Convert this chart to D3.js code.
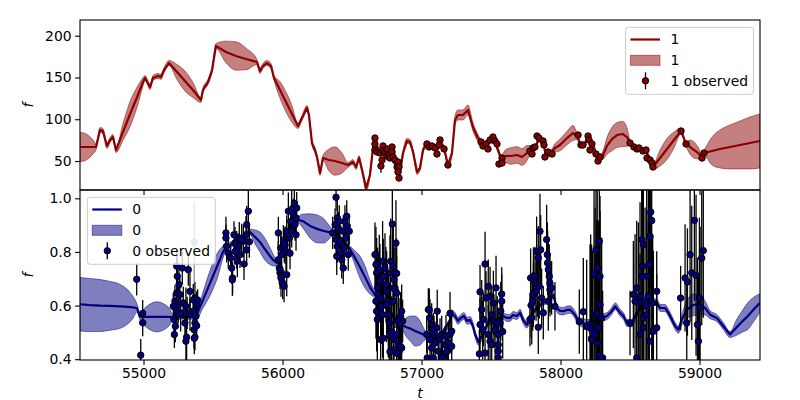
<!DOCTYPE html>
<html><head><meta charset="utf-8">
<script src="https://cdn.jsdelivr.net/npm/d3@7"></script>
<style>body{margin:0;background:#fff;} text{font-family:"DejaVu Sans",sans-serif;font-size:13.9px;fill:#000;}</style>
</head><body><svg id="c" width="800" height="400"></svg>
<script>
// ---------------- data ----------------
const tDomain = [54543, 59435];
const xTicks = [55000, 56000, 57000, 58000, 59000];
const yTicks1 = [50, 100, 150, 200];
const yTicks0 = [0.4, 0.6, 0.8, 1.0];
const y1Domain = [15.3, 218.8];
const y0Domain = [0.397, 1.031];

// GP model for series "1": [t, mean, sigma]
const gp1 = [
[54543,66.8,17.4],[54572,66.8,16.8],[54608,66.8,13.2],[54637,66.8,8.4],[54658,66.8,3.6],
[54687,87.1,3],[54708,85.9,3],[54737,68.0,3],[54759,75.2,3],[54780,78.7,3],[54802,63.2,3],
[54852,84.7,10],[54903,106.3,15],[54954,126.6,12],[54996,144.6,5],[55011,149.4,3],
[55047,138.6,3],[55068,149.4,3],[55104,151.8,3],[55126,150.6,3],[55148,158.9,3],[55183,167.3,3],
[55241,156.5,9],[55298,145.8,12],[55356,135.0,9],[55413,123.0,3],[55428,135.0,3],[55464,144.6,3],
[55493,158.9,3],[55521,187.7,3],[55593,180.5,13],[55665,175.7,17],[55737,172.1,13],[55816,168.5,3],
[55838,157.7,3],[55859,163.7,3],[55888,167.3,3],[55917,163.7,3],[55939,149.4,3],
[55982,135.0,10],[56025,120.6,12],[56068,106.3,10],[56111,91.9,3],[56140,101.5,3],[56176,113.5,3],
[56190,105.1,3],[56212,71.6,3],[56233,63.2,3],[56248,54.8,3],[56270,35.7,3],[56291,53.6,3],
[56334,51.2,13],[56377,50.0,17],[56428,47.6,12],[56471,45.2,3],[56507,48.8,3],[56529,42.8,3],
[56550,53.6,3],[56572,39.2,3],[56601,17.7,3],[56629,33.3,3],[56651,65.6,3],[56665,75.2,3],
[56687,64.4,3],[56716,62.0,3],[56744,60.8,3],[56773,60.8,3],[56802,54.8,3],[56824,47.6,3],
[56845,36.8,3],[56867,59.6,3],[56896,74.0,3],[56917,72.8,3],[56939,60.8,3],[56968,36.8,3],
[56989,41.6,3],[57011,63.2,3],[57040,70.4,3],[57061,68.0,3],[57090,65.6,3],[57111,63.2,3],
[57133,71.6,3],[57162,65.6,3],[57190,45.2,3],[57219,59.6,4],[57241,99.1,5],[57262,105.1,6],
[57298,105.1,6],[57334,111.1,6],[57370,90.7,5],[57406,77.5,4],[57435,71.6,3],[57457,70.4,3],
[57493,74.0,3],[57521,75.2,3],[57550,63.2,3],[57572,53.6,3],[57608,56.0,8],[57644,56.0,10],
[57687,57.2,10],[57723,54.8,10],[57759,59.6,9],[57788,64.4,4],[57816,65.6,3],[57845,76.3,3],
[57874,72.8,3],[57895,57.2,3],[57931,59.6,3],[57960,65.6,5],[57996,69.2,7],[58047,77.5,8],
[58090,83.5,9],[58118,79.9,4],[58147,69.2,3],[58169,69.2,3],[58198,78.7,3],[58219,74.0,3],
[58241,65.6,3],[58270,53.6,3],[58291,54.8,3],[58306,57.2,5],[58334,68.0,10],[58370,76.3,14],
[58406,81.1,15],[58449,82.3,15],[58478,78.7,11],[58500,71.6,3],[58528,65.6,3],[58557,64.4,3],
[58586,63.2,3],[58615,62.0,3],[58644,50.0,3],[58665,42.8,3],[58716,53.6,9.6],[58766,64.4,12.6],
[58816,75.2,9.6],[58867,85.9,3.6],[58903,70.4,3],[58931,66.8,8.4],[58960,63.2,9.6],[58989,59.6,7.2],
[59018,54.8,3.6],[59032,59.6,3],[59090,62.0,16.8],[59147,64.4,22.7],[59219,66.8,26.3],
[59291,69.2,28.7],[59363,71.6,31.1],[59435,74.0,32.3]
];

// observed points for series "1": [t, f, err]
const obs1 = [
[56665,77.5,2],[56665,70.4,2],[56665,63.2,2],[56680,60.8,2],[56701,59.6,2],[56723,68.0,2],[56723,62.0,2],
[56716,51.2,3],[56708,44.0,8],[56737,59.6,2],[56752,56.0,2],[56752,64.4,2],[56766,57.2,2],[56773,53.6,2],
[56788,66.8,2],[56788,60.8,2],[56795,54.8,2],[56809,51.2,2],[56824,47.6,2],[56831,48.8,2],[56824,42.8,2],
[56838,42.8,2],[56831,36.8,2],[56838,29.6,3],
[57039,70.4,2],[57054,66.8,2],[57075,68.0,2],[57097,65.6,2],[57111,58.4,2],[57133,75.2,2],[57126,69.2,2],
[57162,64.4,2],[57190,45.2,3],
[57428,72.8,2],[57442,68.0,2],[57464,70.4,2],[57478,64.4,2],[57493,75.2,2],[57514,78.7,2],[57528,74.0,2],
[57543,70.4,2],[57557,46.4,4],[57579,53.6,2],[57579,47.6,2],
[57780,62.0,2],[57795,58.4,2],[57802,65.6,2],[57816,66.8,2],[57831,79.9,2],[57845,77.5,2],[57874,74.0,2],
[57881,69.2,2],[57888,54.8,2],[57910,60.8,2],[57939,58.4,2],
[58126,81.1,2],[58147,69.2,2],[58162,69.2,2],[58198,79.9,2],[58205,75.2,2],[58212,63.2,2],[58226,70.4,2],
[58255,58.4,2],[58270,50.0,3],[58284,54.8,2],
[58500,71.6,2],[58528,66.8,2],[58550,64.4,2],[58564,65.6,2],[58593,62.0,2],[58615,63.2,2],[58622,53.6,2],
[58644,51.2,2],[58658,47.6,2],[58665,42.8,3],
[58867,85.9,2],[58903,70.4,2],[59018,53.6,3],[59032,59.6,2]
];

// GP model for series "0": [t, mean, sigma]
const gp0 = [
[54543,0.605,0.0995],[54615,0.602,0.099],[54687,0.600,0.097],[54759,0.599,0.091],[54831,0.597,0.082],
[54888,0.595,0.063],[54924,0.593,0.041],[54953,0.591,0.015],[54974,0.559,0.011],[55011,0.558,0.034],
[55047,0.558,0.048],[55097,0.558,0.056],[55147,0.558,0.048],[55183,0.558,0.034],[55212,0.556,0.011],
[55298,0.558,0.008],[55377,0.559,0.011],[55428,0.621,0.030],[55485,0.692,0.048],[55536,0.755,0.045],
[55572,0.800,0.022],[55598,0.820,0.011],[55636,0.830,0.010],[55694,0.845,0.010],[55744,0.867,0.010],
[55766,0.874,0.011],[55802,0.856,0.026],[55838,0.837,0.037],[55867,0.815,0.041],[55903,0.789,0.034],
[55932,0.770,0.022],[55960,0.759,0.011],[56003,0.807,0.010],[56054,0.863,0.010],[56097,0.900,0.010],
[56113,0.919,0.011],[56147,0.915,0.026],[56198,0.897,0.045],[56248,0.886,0.052],[56298,0.878,0.045],
[56334,0.874,0.026],[56363,0.871,0.011],[56413,0.852,0.010],[56449,0.833,0.010],[56485,0.811,0.011],
[56521,0.778,0.026],[56557,0.744,0.041],[56593,0.707,0.041],[56629,0.669,0.026],[56665,0.640,0.011],
[56716,0.610,0.010],[56773,0.576,0.010],[56816,0.547,0.010],[56857,0.528,0.011],[56888,0.520,0.034],
[56924,0.513,0.048],[56953,0.505,0.056],[56989,0.498,0.045],[57018,0.491,0.022],[57039,0.487,0.011],
[57097,0.479,0.010],[57155,0.502,0.010],[57205,0.546,0.011],[57217,0.571,0.012],[57241,0.561,0.013],
[57262,0.543,0.013],[57284,0.554,0.013],[57305,0.561,0.013],[57327,0.543,0.013],[57349,0.546,0.013],
[57370,0.524,0.013],[57385,0.494,0.012],[57409,0.464,0.011],[57457,0.509,0.010],[57493,0.554,0.010],
[57529,0.539,0.010],[57565,0.554,0.010],[57588,0.560,0.012],[57615,0.554,0.013],[57637,0.554,0.013],
[57658,0.565,0.013],[57687,0.561,0.013],[57709,0.573,0.013],[57730,0.547,0.013],[57757,0.528,0.012],
[57780,0.548,0.011],[57816,0.584,0.010],[57852,0.602,0.010],[57888,0.614,0.010],[57924,0.621,0.010],
[57948,0.640,0.011],[57972,0.591,0.013],[57996,0.580,0.014],[58020,0.579,0.014],[58047,0.584,0.014],
[58068,0.585,0.014],[58104,0.566,0.014],[58128,0.542,0.014],[58164,0.535,0.016],[58212,0.529,0.018],
[58248,0.546,0.016],[58284,0.554,0.014],[58332,0.560,0.013],[58363,0.576,0.013],[58394,0.597,0.013],
[58429,0.573,0.013],[58454,0.560,0.013],[58478,0.535,0.013],[58514,0.535,0.014],[58550,0.573,0.013],
[58598,0.610,0.012],[58646,0.616,0.012],[58694,0.610,0.013],[58716,0.591,0.013],[58752,0.591,0.013],
[58776,0.573,0.013],[58801,0.548,0.013],[58825,0.523,0.013],[58849,0.510,0.013],[58873,0.548,0.020],
[58909,0.585,0.033],[58957,0.603,0.041],[59004,0.603,0.037],[59040,0.591,0.026],[59076,0.566,0.015],
[59124,0.554,0.013],[59172,0.523,0.013],[59219,0.492,0.011],[59269,0.520,0.030],[59312,0.543,0.041],
[59348,0.561,0.050],[59392,0.587,0.045],[59435,0.610,0.034]
];

// observed points for series "0": [t, f, err]
const obs0 = [
[54951,0.698,0.06],[54994,0.571,0.05],[54994,0.536,0.05],[54980,0.415,0.06],
[55239,0.747,0.07],[55279,0.740,0.06],[55243,0.709,0.07],[55255,0.678,0.06],[55239,0.647,0.07],[55262,0.641,0.06],
[55226,0.616,0.06],[55250,0.603,0.07],[55214,0.597,0.05],[55239,0.579,0.06],[55267,0.573,0.07],[55219,0.548,0.05],
[55229,0.523,0.06],[55222,0.492,0.05],[55286,0.610,0.06],[55305,0.597,0.07],[55322,0.734,0.06],[55334,0.653,0.07],
[55314,0.573,0.06],[55334,0.566,0.06],[55298,0.535,0.06],[55310,0.482,0.09],[55370,0.628,0.06],[55382,0.603,0.05],
[55358,0.579,0.06],[55377,0.560,0.05],[55370,0.535,0.06],[55363,0.510,0.07],[55370,0.482,0.05],[55305,0.467,0.08],
[55358,0.621,0.06],[55365,0.478,0.06],[55382,0.525,0.05],[55389,0.621,0.04],
[55593,0.871,0.06],[55593,0.852,0.05],[55598,0.821,0.06],[55610,0.796,0.06],[55627,0.777,0.05],[55634,0.740,0.06],
[55641,0.703,0.06],[55651,0.864,0.05],[55658,0.833,0.06],[55670,0.808,0.07],[55689,0.852,0.06],[55694,0.790,0.05],
[55718,0.840,0.06],[55723,0.755,0.06],[55737,0.864,0.07],[55742,0.902,0.07],[55754,0.952,0.08],[55742,0.808,0.06],
[55675,0.766,0.06],[55682,0.820,0.05],[55706,0.845,0.06],[55658,0.801,0.05],[55761,0.838,0.06],[55639,0.696,0.06],
[55970,0.871,0.06],[55970,0.771,0.07],[55977,0.740,0.06],[55982,0.722,0.06],[55989,0.703,0.07],[56001,0.684,0.06],
[56011,0.672,0.06],[55987,0.815,0.06],[55994,0.790,0.07],[56006,0.840,0.06],[56013,0.821,0.06],[56030,0.877,0.06],
[56025,0.802,0.08],[56030,0.715,0.08],[56042,0.952,0.07],[56049,0.852,0.06],[56059,0.914,0.06],[56066,0.958,0.07],
[56066,0.877,0.06],[56078,0.939,0.06],[56085,0.982,0.07],[56090,0.902,0.06],[56097,0.864,0.06],[56102,0.964,0.06],
[56097,0.927,0.05],[56054,0.795,0.06],[56018,0.826,0.07],[55982,0.733,0.06],
[56385,1.004,0.05],[56361,0.871,0.06],[56378,0.902,0.06],[56394,0.927,0.07],[56401,0.889,0.06],[56385,0.846,0.07],
[56394,0.821,0.06],[56390,0.784,0.07],[56413,0.840,0.06],[56419,0.796,0.06],[56426,0.771,0.07],[56437,0.740,0.06],
[56437,0.877,0.06],[56449,0.914,0.06],[56462,0.933,0.06],[56466,0.896,0.05],[56457,0.852,0.06],[56473,0.790,0.06],
[56480,0.877,0.05],[56408,0.914,0.06],[56444,0.815,0.07],
[56665,0.790,0.12],[56672,0.753,0.14],[56677,0.722,0.13],[56684,0.666,0.15],[56689,0.641,0.16],[56672,0.616,0.14],
[56677,0.579,0.15],[56682,0.548,0.16],[56696,0.734,0.13],[56701,0.691,0.14],[56706,0.628,0.15],[56713,0.597,0.14],
[56720,0.765,0.15],[56725,0.709,0.14],[56720,0.566,0.16],[56706,0.473,0.12],[56737,0.740,0.13],[56744,0.678,0.14],
[56749,0.653,0.15],[56754,0.616,0.14],[56761,0.566,0.16],[56768,0.535,0.15],[56773,0.722,0.14],[56778,0.765,0.16],
[56790,0.904,0.2],[56797,0.747,0.15],[56802,0.697,0.14],[56809,0.666,0.15],[56816,0.833,0.16],[56821,0.647,0.14],
[56797,0.616,0.15],[56785,0.504,0.13],[56802,0.473,0.14],[56821,0.492,0.12],[56833,0.454,0.1],[56840,0.430,0.1],
[56857,0.442,0.09],[56857,0.579,0.1],[56850,0.560,0.09],[56864,0.542,0.08],[56833,0.542,0.12],[56773,0.492,0.14],
[56749,0.603,0.14],[56821,0.720,0.13],[56797,0.665,0.14],[56845,0.528,0.1],[56850,0.447,0.1],[56797,0.435,0.12],
[56725,0.478,0.14],[56773,0.428,0.13],[56821,0.422,0.12],
[57037,0.492,0.07],[57049,0.585,0.08],[57061,0.554,0.07],[57073,0.529,0.08],[57061,0.473,0.07],[57041,0.405,0.06],
[57090,0.492,0.07],[57097,0.461,0.08],[57109,0.517,0.07],[57113,0.579,0.08],[57121,0.430,0.07],[57133,0.473,0.08],
[57145,0.492,0.07],[57152,0.411,0.06],[57169,0.454,0.07],[57176,0.486,0.08],[57185,0.430,0.07],[57193,0.461,0.08],
[57205,0.492,0.07],[57217,0.504,0.08],[57217,0.448,0.07],[57073,0.442,0.07],[57085,0.405,0.06],[57056,0.584,0.08],
[57085,0.503,0.07],[57205,0.571,0.08],[57181,0.428,0.07],[57145,0.404,0.06],
[57421,0.651,0.1],[57457,0.755,0.12],[57480,0.672,0.1],[57493,0.635,0.11],[57464,0.628,0.1],[57433,0.585,0.11],
[57445,0.548,0.1],[57421,0.529,0.1],[57440,0.510,0.11],[57416,0.420,0.09],[57457,0.423,0.1],[57480,0.492,0.11],
[57493,0.467,0.1],[57505,0.566,0.11],[57517,0.610,0.12],[57521,0.542,0.1],[57529,0.510,0.11],[57505,0.454,0.1],
[57552,0.492,0.1],[57552,0.454,0.09],[57552,0.430,0.09],[57565,0.535,0.1],[57570,0.579,0.11],[57577,0.616,0.1],
[57577,0.643,0.1],[57545,0.535,0.1],[57536,0.666,0.12],[57552,0.406,0.09],[57584,0.503,0.1],
[57780,0.548,0.1],[57788,0.601,0.12],[57785,0.703,0.11],[57805,0.697,0.12],[57816,0.709,0.11],[57805,0.641,0.12],
[57800,0.616,0.11],[57828,0.802,0.13],[57840,0.777,0.12],[57833,0.678,0.12],[57824,0.653,0.11],[57840,0.519,0.1],
[57852,0.877,0.14],[57847,0.672,0.12],[57864,0.628,0.11],[57876,0.573,0.1],[57900,0.846,0.13],[57905,0.790,0.12],
[57907,0.759,0.12],[57912,0.734,0.11],[57919,0.709,0.12],[57924,0.684,0.11],[57924,0.659,0.1],[57912,0.616,0.11],
[57936,0.666,0.1],[57960,0.597,0.09],[57857,0.808,0.13],[57793,0.555,0.1],
[58135,0.540,0.12],[58164,0.577,0.2],[58188,0.521,0.25],[58212,0.529,0.3],[58217,0.515,0.35],[58224,0.478,0.35],
[58224,0.473,0.3],[58248,0.566,0.4],[58255,0.808,0.35],[58264,0.740,0.4],[58279,0.840,0.35],[58241,0.718,0.35],
[58284,0.709,0.3],[58284,0.603,0.35],[58272,0.517,0.4],[58264,0.461,0.35],[58279,0.417,0.3],[58303,0.405,0.25],
[58296,0.554,0.3],[58231,0.504,0.3],[58248,0.492,0.3],[58260,0.571,0.35],[58296,0.404,0.3],
[58500,0.535,0.12],[58524,0.641,0.2],[58548,0.666,0.25],[58560,0.610,0.3],[58572,0.635,0.35],[58585,0.709,0.35],
[58591,0.747,0.4],[58585,0.846,0.35],[58596,0.827,0.4],[58608,0.616,0.35],[58620,0.597,0.35],[58632,0.635,0.4],
[58639,0.753,0.35],[58644,0.858,0.35],[58649,0.949,0.3],[58656,0.917,0.3],[58663,0.610,0.25],[58656,0.504,0.35],
[58639,0.467,0.35],[58668,0.504,0.3],[58692,0.653,0.15],[58692,0.517,0.2],[58596,0.517,0.3],[58572,0.492,0.3],
[58548,0.405,0.2],[58536,0.616,0.25],[58596,0.554,0.3],[58620,0.566,0.35],[58620,0.709,0.35],
[58864,0.628,0.12],[58896,0.703,0.2],[58913,0.688,0.2],[58908,0.535,0.15],[58944,0.722,0.25],[58932,0.790,0.25],
[58963,0.918,0.3],[58975,0.713,0.3],[58985,0.529,0.25],[58992,0.467,0.25],[59016,0.777,0.25],[59027,0.805,0.25],
[59004,0.594,0.3],[58999,0.628,0.3]
];
// masked (grey) observation of series "0"
const obs0Masked = [[55365,0.836,0.15]];

const seriesNames = ["1", "0"];
const colors = {"1": "#8b0000", "0": "#000080"};

// ---------------- layout ----------------
const svg = d3.select("#c");
const L = 80, R = 760;
const panels = {
  "1": {top: 20, bottom: 190, domain: y1Domain, ticks: yTicks1, fmt: d3.format("d"), gp: gp1, obs: obs1, masked: []},
  "0": {top: 190, bottom: 360, domain: y0Domain, ticks: yTicks0, fmt: d3.format(".1f"), gp: gp0, obs: obs0, masked: obs0Masked}
};
const x = d3.scaleLinear().domain(tDomain).range([L, R]);

function drawPanel(name) {
  const p = panels[name];
  const col = colors[name];
  const y = d3.scaleLinear().domain(p.domain).range([p.bottom, p.top]);
  const cid = "clip" + name;
  svg.append("clipPath").attr("id", cid).append("rect")
    .attr("x", L).attr("y", p.top).attr("width", R - L).attr("height", p.bottom - p.top);
  const g = svg.append("g").attr("clip-path", `url(#${cid})`);
  // band
  const area = d3.area().x(d => x(d[0])).y0(d => y(d[1] - d[2])).y1(d => y(d[1] + d[2])).curve(d3.curveMonotoneX);
  g.append("path").datum(p.gp).attr("d", area)
    .attr("fill", col).attr("fill-opacity", 0.5).attr("stroke", col).attr("stroke-opacity", 0.5).attr("stroke-width", 1);
  // mean
  const line = d3.line().x(d => x(d[0])).y(d => y(d[1]));
  g.append("path").datum(p.gp).attr("d", line)
    .attr("fill", "none").attr("stroke", col).attr("stroke-width", 2.2).attr("stroke-linejoin", "round");
  // masked
  const gm = g.append("g").attr("opacity", 0.42);
  gm.selectAll("line").data(p.masked).join("line")
    .attr("x1", d => x(d[0])).attr("x2", d => x(d[0]))
    .attr("y1", d => y(d[1] - d[2])).attr("y2", d => y(d[1] + d[2]))
    .attr("stroke", "#000").attr("stroke-width", 1.3);
  gm.selectAll("circle").data(p.masked).join("circle")
    .attr("cx", d => x(d[0])).attr("cy", d => y(d[1])).attr("r", 3.2)
    .attr("fill", col).attr("stroke", "#000").attr("stroke-width", 1);
  // error bars
  g.append("g").selectAll("line").data(p.obs).join("line")
    .attr("x1", d => x(d[0])).attr("x2", d => x(d[0]))
    .attr("y1", d => y(d[1] - d[2])).attr("y2", d => y(d[1] + d[2]))
    .attr("stroke", "#000").attr("stroke-width", 1.3);
  g.append("g").selectAll("circle").data(p.obs).join("circle")
    .attr("cx", d => x(d[0])).attr("cy", d => y(d[1])).attr("r", 3.2)
    .attr("fill", col).attr("stroke", "#000").attr("stroke-width", 1);

  // y axis
  const ya = svg.append("g").attr("transform", `translate(${L},0)`)
    .call(d3.axisLeft(y).tickValues(p.ticks).tickFormat(p.fmt).tickSize(4.9).tickPadding(3.5));
  ya.select(".domain").remove();
  ya.selectAll("text").style("font-size", "13.9px").attr("font-family", "DejaVu Sans");
  ya.selectAll("line").attr("stroke-width", 1.1);
  // x axis
  const xa = svg.append("g").attr("transform", `translate(0,${p.bottom})`)
    .call(d3.axisBottom(x).tickValues(xTicks).tickFormat(name === "0" ? d3.format("d") : () => "").tickSize(4.9).tickPadding(3.5));
  xa.select(".domain").remove();
  xa.selectAll("text").style("font-size", "13.9px").attr("font-family", "DejaVu Sans");
  xa.selectAll("line").attr("stroke-width", 1.1);
  // frame
  svg.append("rect").attr("x", L).attr("y", p.top).attr("width", R - L).attr("height", p.bottom - p.top)
    .attr("fill", "none").attr("stroke", "#000").attr("stroke-width", 1.1);
  // y label
  svg.append("text").attr("transform", `translate(33,${(p.top + p.bottom) / 2}) rotate(-90)`)
    .attr("text-anchor", "middle").style("font-style", "italic").text("f");
  return y;
}

drawPanel("0");
drawPanel("1");

svg.append("text").attr("x", (L + R) / 2).attr("y", 398).attr("text-anchor", "middle")
  .style("font-style", "italic").text("t");

// legends
function legend(name, lx, ly) {
  const col = colors[name];
  const g = svg.append("g").attr("transform", `translate(${lx},${ly})`);
  g.append("rect").attr("x", 0).attr("y", 0).attr("width", 128).attr("height", 67).attr("rx", 3)
    .attr("fill", "#fff").attr("fill-opacity", 0.8).attr("stroke", "#cccccc").attr("stroke-width", 1);
  g.append("line").attr("x1", 5).attr("x2", 34.5).attr("y1", 12.2).attr("y2", 12.2)
    .attr("stroke", col).attr("stroke-width", 2.2);
  g.append("text").attr("x", 45).attr("y", 17).text(name);
  g.append("rect").attr("x", 5).attr("y", 28).attr("width", 29.5).attr("height", 10)
    .attr("fill", col).attr("fill-opacity", 0.5).attr("stroke", col).attr("stroke-opacity", 0.5);
  g.append("text").attr("x", 45).attr("y", 38).text(name);
  g.append("line").attr("x1", 20).attr("x2", 20).attr("y1", 45).attr("y2", 62)
    .attr("stroke", "#000").attr("stroke-width", 1.3);
  g.append("circle").attr("cx", 20).attr("cy", 53.5).attr("r", 3.2)
    .attr("fill", col).attr("stroke", "#000").attr("stroke-width", 1);
  g.append("text").attr("x", 45).attr("y", 58.5).text(name + " observed");
}
legend("1", 625.5, 27.3);
legend("0", 87.3, 197.3);
</script></body></html>
